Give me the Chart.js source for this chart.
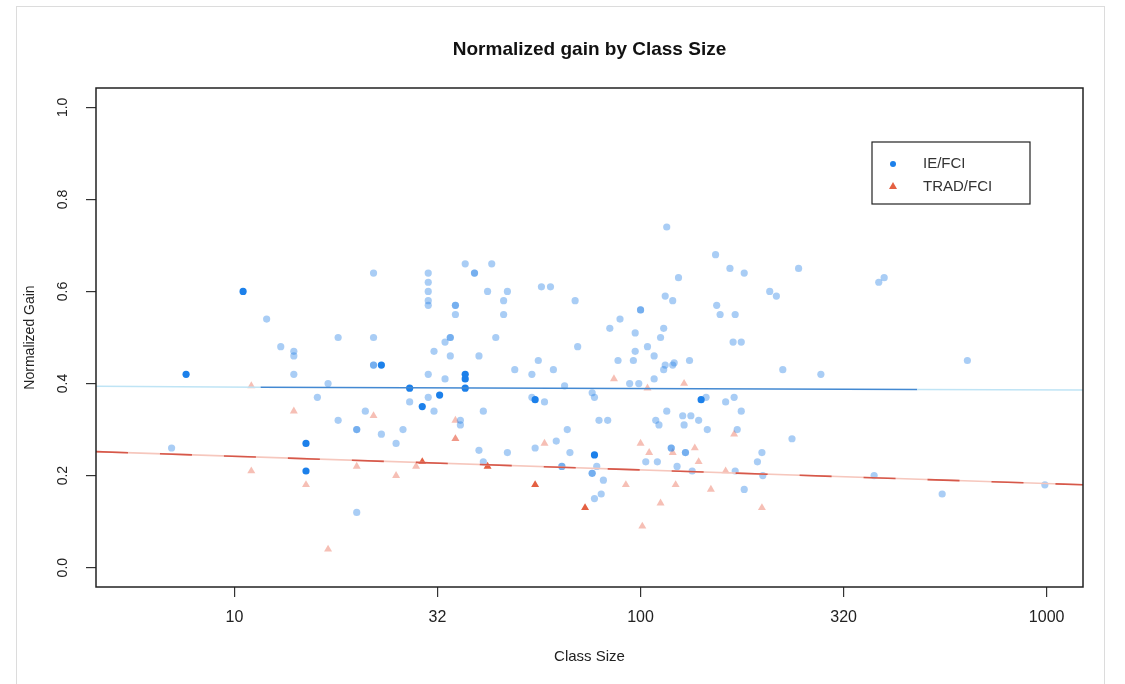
<!DOCTYPE html>
<html>
<head>
<meta charset="utf-8">
<title>Normalized gain by Class Size</title>
<script src="https://cdn.jsdelivr.net/npm/chart.js@4.4.1/dist/chart.umd.min.js"></script>
<style>
  html, body { margin: 0; padding: 0; background: #fff; }
  #wrap { width: 1125px; height: 684px; }
</style>
</head>
<body>
<div id="wrap"><canvas id="gain-chart" width="1125" height="684"></canvas></div>
<script>
// Axis setup (class size is on a log scale)
const xMin = 4.56, xMax = 1229;
const yMin = -0.042, yMax = 1.042;
const xTickValues = [10, 31.62, 100, 316.2, 1000];
const xTickLabels = ["10", "32", "100", "320", "1000"];
const yTickValues = [0, 0.2, 0.4, 0.6, 0.8, 1.0];
const legendLabels = ["IE/FCI", "TRAD/FCI"];

// IE/FCI courses (pale dots, repeated entries are overlapping courses)
const ieX = [7, 12, 13, 14, 14, 14, 18, 22, 22, 22, 22, 17, 16, 18, 21, 20, 20, 23, 20,
  37, 43, 39, 39, 30, 30, 30, 30, 30, 42, 47, 46, 46, 35, 35, 35, 57, 60, 69,
  116, 115, 120, 124, 100, 100, 89, 84, 97, 114, 112, 97, 104, 108, 96, 88, 115, 114, 120, 121, 108, 94, 99,
  34, 34, 33, 31, 34, 40, 44, 70, 56, 49, 54, 61, 30, 33, 65, 76, 77, 30, 27, 31, 41, 54, 58,
  36, 36, 26, 25, 40, 47, 62, 55, 66, 67, 79, 83, 78, 76, 76, 81, 77, 80, 41, 64, 64, 103, 110,
  116, 109, 111, 119, 119, 123, 153, 166, 180, 245, 208, 216, 386, 398, 154, 157, 171, 169, 177,
  132, 224, 278, 638, 145, 162, 170, 177, 127, 133, 139, 128, 146, 173, 236, 129, 129, 199, 194,
  134, 171, 200, 376, 990, 553, 180];
const ieY = [0.26, 0.54, 0.48, 0.47, 0.46, 0.42, 0.50, 0.64, 0.50, 0.44, 0.44, 0.40, 0.37, 0.32, 0.34, 0.30, 0.30, 0.29, 0.12,
  0.66, 0.66, 0.64, 0.64, 0.64, 0.62, 0.60, 0.58, 0.57, 0.60, 0.60, 0.58, 0.55, 0.57, 0.57, 0.55, 0.61, 0.61, 0.58,
  0.74, 0.59, 0.58, 0.63, 0.56, 0.56, 0.54, 0.52, 0.51, 0.52, 0.50, 0.47, 0.48, 0.46, 0.45, 0.45, 0.44, 0.43, 0.44, 0.445, 0.41, 0.40, 0.40,
  0.50, 0.50, 0.49, 0.47, 0.46, 0.46, 0.50, 0.48, 0.45, 0.43, 0.42, 0.43, 0.42, 0.41, 0.395, 0.38, 0.37, 0.37, 0.36, 0.34, 0.34, 0.37, 0.36,
  0.32, 0.31, 0.30, 0.27, 0.255, 0.25, 0.275, 0.26, 0.30, 0.25, 0.32, 0.32, 0.22, 0.205, 0.205, 0.19, 0.15, 0.16, 0.23, 0.22, 0.22, 0.23, 0.23,
  0.34, 0.32, 0.31, 0.26, 0.26, 0.22, 0.68, 0.65, 0.64, 0.65, 0.60, 0.59, 0.62, 0.63, 0.57, 0.55, 0.55, 0.49, 0.49,
  0.45, 0.43, 0.42, 0.45, 0.37, 0.36, 0.37, 0.34, 0.33, 0.33, 0.32, 0.31, 0.30, 0.30, 0.28, 0.25, 0.25, 0.25, 0.23,
  0.21, 0.21, 0.20, 0.20, 0.18, 0.16, 0.17];

// IE/FCI highlighted courses (solid dots)
const ieDarkX = [7.6, 10.5, 23, 15, 15, 27, 32, 29, 37, 37, 37, 55, 77, 141];
const ieDarkY = [0.42, 0.60, 0.44, 0.27, 0.21, 0.39, 0.375, 0.35, 0.42, 0.41, 0.39, 0.365, 0.245, 0.365];

// TRAD/FCI courses (pale triangles)
const tradX = [11, 14, 22, 11, 15, 20, 17, 35, 35, 35, 25, 28, 58, 86, 104, 100, 105, 92, 112, 101,
  120, 122, 128, 170, 136, 139, 162, 149, 199];
const tradY = [0.395, 0.34, 0.33, 0.21, 0.18, 0.22, 0.04, 0.32, 0.28, 0.28, 0.20, 0.22, 0.27, 0.41, 0.39, 0.27, 0.25, 0.18, 0.14, 0.09,
  0.25, 0.18, 0.40, 0.29, 0.26, 0.23, 0.21, 0.17, 0.13];

// TRAD/FCI highlighted courses (solid triangles)
const tradDarkX = [29, 42, 55, 73];
const tradDarkY = [0.23, 0.22, 0.18, 0.13];

// Fitted lines
const ieFitX = [4.56, 11.6, 480, 1229];
const ieFitY = [0.394, 0.392, 0.387, 0.386];
const tradFitX = [4.56, 1229];
const tradFitY = [0.252, 0.18];

const FONT = "'Liberation Sans', Arial, sans-serif";
const BLUE = "rgb(28,128,234)";
const BLUE_PALE = "rgba(40,130,230,0.4)";
const RED = "rgb(228,96,66)";
const RED_PALE = "rgba(232,96,70,0.4)";

const toPoints = (xs, ys) => xs.map((x, i) => ({ x: x, y: ys[i] }));

// box around plot region, faint page border, legend
const framePlugin = {
  id: "frame",
  beforeDraw(chart) {
    const ctx = chart.ctx;
    ctx.save();
    ctx.fillStyle = "#fff";
    ctx.fillRect(0, 0, chart.width, chart.height);
    ctx.strokeStyle = "#dcdcdc";
    ctx.lineWidth = 1;
    ctx.strokeRect(16.5, 6.5, 1088, 690);
    ctx.restore();
  },
  afterDraw(chart) {
    const ctx = chart.ctx;
    const a = chart.chartArea;
    ctx.save();
    ctx.strokeStyle = "#222";
    ctx.lineWidth = 1.5;
    ctx.strokeRect(a.left, a.top, a.right - a.left, a.bottom - a.top);

    // legend box
    ctx.lineWidth = 1.2;
    ctx.strokeRect(872, 142, 158, 62);
    ctx.fillStyle = BLUE;
    ctx.beginPath();
    ctx.arc(893, 164, 3, 0, Math.PI * 2);
    ctx.fill();
    ctx.fillStyle = RED;
    ctx.beginPath();
    ctx.moveTo(893, 182);
    ctx.lineTo(897, 189);
    ctx.lineTo(889, 189);
    ctx.closePath();
    ctx.fill();
    ctx.fillStyle = "#333";
    ctx.font = "15px " + FONT;
    ctx.textBaseline = "middle";
    ctx.fillText(legendLabels[0], 923, 164);
    ctx.fillText(legendLabels[1], 923, 187);
    ctx.restore();
  }
};

new Chart(document.getElementById("gain-chart").getContext("2d"), {
  type: "scatter",
  data: {
    datasets: [
      {
        type: "line",
        label: "IE fit",
        data: toPoints(ieFitX, ieFitY),
        borderWidth: 1.6,
        borderColor: "#bfe4f5",
        segment: { borderColor: c => c.p0DataIndex === 1 ? "#4389d2" : "#bfe4f5" },
        pointRadius: 0,
        fill: false
      },
      {
        type: "line",
        label: "TRAD fit dark",
        data: toPoints(tradFitX, tradFitY),
        borderWidth: 1.6,
        borderColor: "#d6584a",
        borderDash: [32, 32],
        pointRadius: 0,
        fill: false
      },
      {
        type: "line",
        label: "TRAD fit",
        data: toPoints(tradFitX, tradFitY),
        borderWidth: 1.6,
        borderColor: "#f6c7bd",
        pointRadius: 0,
        fill: false
      },
      {
        label: "IE/FCI dark",
        data: toPoints(ieDarkX, ieDarkY),
        pointStyle: "circle",
        pointRadius: 3.6,
        backgroundColor: BLUE,
        borderWidth: 0
      },
      {
        label: "TRAD/FCI dark",
        data: toPoints(tradDarkX, tradDarkY),
        pointStyle: "triangle",
        pointRadius: 4.6,
        backgroundColor: RED,
        borderWidth: 0
      },
      {
        label: "IE/FCI",
        data: toPoints(ieX, ieY),
        pointStyle: "circle",
        pointRadius: 3.6,
        backgroundColor: BLUE_PALE,
        borderWidth: 0
      },
      {
        label: "TRAD/FCI",
        data: toPoints(tradX, tradY),
        pointStyle: "triangle",
        pointRadius: 4.6,
        backgroundColor: RED_PALE,
        borderWidth: 0
      }
    ]
  },
  options: {
    responsive: false,
    animation: false,
    devicePixelRatio: 1,
    layout: { padding: { top: 0, right: 42, bottom: 0, left: 0 } },
    plugins: {
      legend: { display: false },
      tooltip: { enabled: false },
      title: {
        display: true,
        text: "Normalized gain by Class Size",
        fullSize: false,
        color: "#111",
        font: { family: FONT, size: 19, weight: "bold" },
        padding: { top: 38.6, bottom: 26.6 }
      }
    },
    scales: {
      x: {
        type: "logarithmic",
        min: xMin,
        max: xMax,
        afterFit: s => { s.height = 97; },
        afterBuildTicks: s => { s.ticks = xTickValues.map(v => ({ value: v })); },
        grid: { display: true, drawOnChartArea: false, drawTicks: true, tickLength: 10, color: "#333", lineWidth: 1.2 },
        border: { display: false },
        ticks: {
          autoSkip: false,
          maxRotation: 0,
          padding: 11,
          color: "#222",
          font: { family: FONT, size: 16 },
          callback: (v, i) => xTickLabels[i]
        },
        title: {
          display: true,
          text: "Class Size",
          color: "#222",
          font: { family: FONT, size: 15 },
          padding: { bottom: 18 }
        }
      },
      y: {
        type: "linear",
        min: yMin,
        max: yMax,
        afterFit: s => { s.width = 96; },
        afterBuildTicks: s => { s.ticks = yTickValues.map(v => ({ value: v })); },
        grid: { display: true, drawOnChartArea: false, drawTicks: true, tickLength: 10, color: "#333", lineWidth: 1.2 },
        border: { display: false },
        ticks: {
          minRotation: 90,
          maxRotation: 90,
          crossAlign: "center",
          padding: 13,
          color: "#222",
          font: { family: FONT, size: 14 },
          callback: v => v.toFixed(1)
        },
        title: {
          display: true,
          text: "Normalized Gain",
          color: "#222",
          font: { family: FONT, size: 14 },
          padding: { top: 22 }
        }
      }
    }
  },
  plugins: [framePlugin]
});
</script>
</body>
</html>
